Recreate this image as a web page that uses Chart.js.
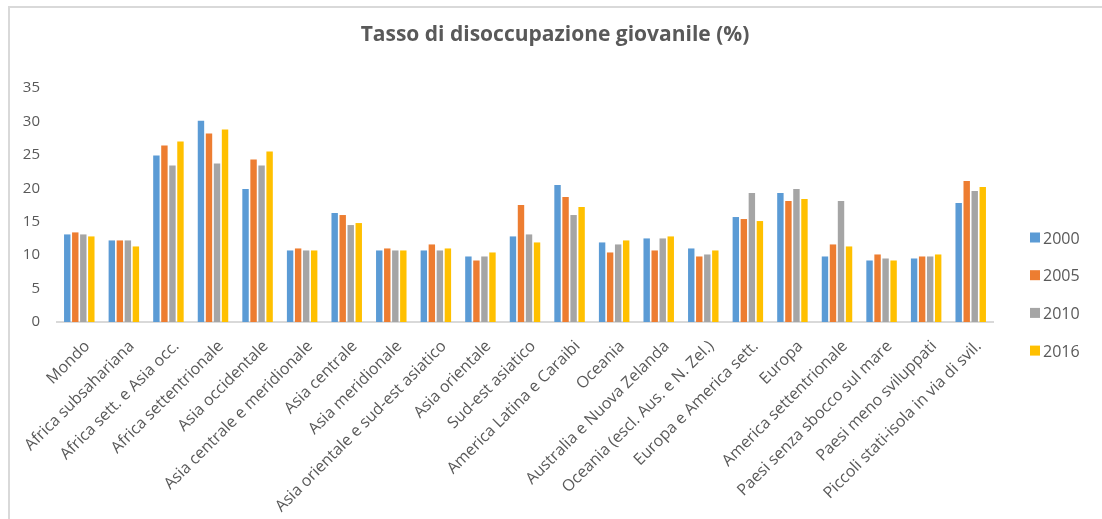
<!DOCTYPE html>
<html>
<head>
<meta charset="utf-8">
<script src="https://cdn.jsdelivr.net/npm/chart.js@4.4.1/dist/chart.umd.min.js"></script>
<style>
  html, body { margin: 0; padding: 0; background: #ffffff; overflow: hidden; }
  #frame { position: absolute; left: 8px; top: 6px; width: 1200px; height: 600px; border: 2px solid #d9d9d9; box-sizing: border-box; }
  #wrap { position: absolute; left: 0; top: 0; width: 1102px; height: 519px; }
</style>
</head>
<body>
<div id="frame"></div>
<div id="wrap"><canvas id="c" width="1102" height="519"></canvas></div>
<script>
const categories = [
  "Mondo", "Africa subsahariana", "Africa sett. e Asia occ.", "Africa settentrionale",
  "Asia occidentale", "Asia centrale e meridionale", "Asia centrale", "Asia meridionale",
  "Asia orientale e sud-est asiatico", "Asia orientale", "Sud-est asiatico",
  "America Latina e Caraibi", "Oceania", "Australia e Nuova Zelanda",
  "Oceania (escl. Aus. e N. Zel.)", "Europa e America sett.", "Europa",
  "America settentrionale", "Paesi senza sbocco sul mare", "Paesi meno sviluppati",
  "Piccoli stati-isola in via di svil."
];
const seriesLabels = ["2000", "2005", "2010", "2016"];
const values2000 = [13.1, 12.2, 24.9, 30.1, 19.9, 10.7, 16.3, 10.7, 10.7, 9.8, 12.8, 20.5, 11.9, 12.5, 11.0, 15.7, 19.3, 9.8, 9.2, 9.5, 17.8];
const values2005 = [13.4, 12.2, 26.4, 28.2, 24.3, 11.0, 16.0, 11.0, 11.6, 9.2, 17.5, 18.7, 10.4, 10.7, 9.8, 15.4, 18.1, 11.6, 10.1, 9.8, 21.1];
const values2010 = [13.1, 12.2, 23.4, 23.7, 23.4, 10.7, 14.5, 10.7, 10.7, 9.8, 13.1, 16.0, 11.6, 12.5, 10.1, 19.3, 19.9, 18.1, 9.5, 9.8, 19.6];
const values2016 = [12.8, 11.3, 27.0, 28.8, 25.5, 10.7, 14.8, 10.7, 11.0, 10.4, 11.9, 17.2, 12.2, 12.8, 10.7, 15.1, 18.4, 11.3, 9.2, 10.1, 20.2];
const yTicks = [0, 5, 10, 15, 20, 25, 30, 35];
const titleText = "Tasso di disoccupazione giovanile (%)";

const colors = ["#5B9BD5", "#ED7D31", "#A5A5A5", "#FFC000"];
const allValues = [values2000, values2005, values2010, values2016];
const textColor = "#595959";
const fontFamily = "'Open Sans', 'DejaVu Sans', sans-serif";

const sideLegend = {
  id: 'sideLegend',
  afterDraw(chart) {
    const ctx = chart.ctx;
    const area = chart.chartArea;
    ctx.save();
    ctx.font = "16px " + fontFamily;
    ctx.textBaseline = 'alphabetic';
    ctx.textAlign = 'left';
    chart.data.datasets.forEach((ds, i) => {
      const cy = 237.5 + i * 37.7;
      const bx = area.right + 37;
      ctx.fillStyle = ds.backgroundColor;
      ctx.fillRect(bx, cy - 5, 10, 10);
      ctx.fillStyle = textColor;
      ctx.fillText(ds.label, bx + 13, cy + 6);
    });
    ctx.restore();
  }
};

new Chart(document.getElementById('c'), {
  type: 'bar',
  data: {
    labels: categories,
    datasets: seriesLabels.map((lab, i) => ({
      label: lab,
      data: allValues[i],
      backgroundColor: colors[i],
      borderWidth: 0,
      yAxisID: 'y',
      xAxisID: 'x',
      categoryPercentage: 0.72,
      barPercentage: 0.8
    }))
  },
  options: {
    responsive: false,
    animation: false,
    devicePixelRatio: 1,
    layout: { padding: { left: 16, right: 8, top: 0, bottom: 0 } },
    plugins: {
      legend: { display: false },
      tooltip: { enabled: false },
      title: {
        display: true,
        text: titleText,
        color: textColor,
        font: { family: fontFamily, size: 21, weight: 'bold', lineHeight: 1.2 },
        padding: { top: 22, bottom: 40.8 }
      }
    },
    scales: {
      x: {
        grid: { display: false, drawTicks: false },
        border: { display: true, color: '#d9d9d9', width: 2 },
        ticks: {
          color: textColor,
          font: { family: fontFamily, size: 16 },
          autoSkip: false,
          maxRotation: 45,
          minRotation: 45,
          padding: 15,
          labelOffset: 8
        },
        afterFit(s) { s.height = 197; }
      },
      y: {
        min: 0,
        max: 35,
        grid: { display: false, drawTicks: false },
        border: { display: false },
        ticks: {
          color: textColor,
          font: { family: fontFamily, size: 15 },
          stepSize: 5,
          padding: 17,
          callback: (v) => yTicks.includes(v) ? String(v) : null
        },
        afterFit(s) { s.width = 41; }
      },
      y2: {
        position: 'right',
        display: true,
        grid: { display: false, drawTicks: false },
        border: { display: false },
        ticks: { display: false },
        afterFit(s) { s.width = 101; }
      }
    }
  },
  plugins: [sideLegend]
});
</script>
</body>
</html>
